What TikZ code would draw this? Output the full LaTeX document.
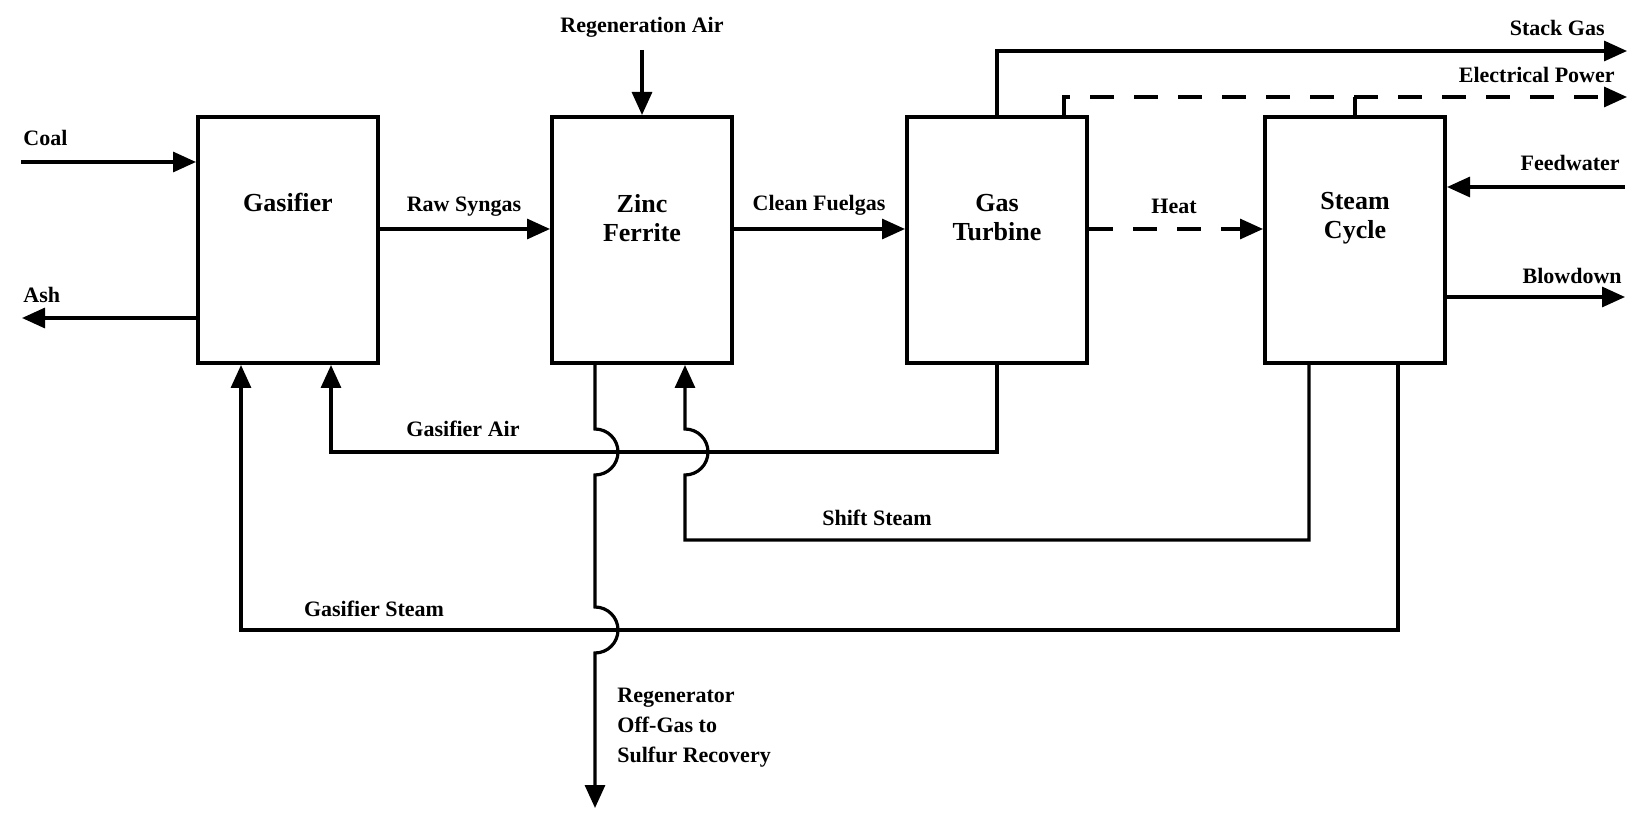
\documentclass[tikz,border=0pt]{standalone}
\usepackage{fontspec}
\setmainfont{Liberation Serif}
\usetikzlibrary{arrows.meta,calc}

\begin{document}
\begin{tikzpicture}[x=0.5pt,y=-0.5pt,
  unit/.style={draw,line width=2pt,minimum width=90pt,minimum height=123pt,inner sep=0pt},
  unitname/.style={font=\fontsize{13}{14.5}\selectfont\bfseries,align=center,inner sep=0pt},
  stream/.style={font=\fontsize{11}{15}\selectfont\bfseries,inner sep=0pt},
  pipe/.style={line width=1.6pt},
  flow/.style={pipe,-{Triangle[length=11.5pt,width=10pt]}},
  energy/.style={flow,dash pattern=on 12pt off 10pt}]
\useasboundingbox (0,0) rectangle (1641,817);

\node[unit] (gasifier) at (288,240) {};
\node[unit] (zinc) at (642,240) {};
\node[unit] (turbine) at (997,240) {};
\node[unit] (steamcycle) at (1355,240) {};

\node[unitname] (gasifiername) at (288,202) {Gasifier};
\node[unitname] (zincname) at (642,218) {Zinc\\Ferrite};
\node[unitname] (turbinename) at (997,218) {Gas\\Turbine};
\node[unitname] (steamcyclename) at (1355,218) {Steam\\Cycle};

\coordinate (coal) at (21,162);
\coordinate (ash) at (22,318);
\coordinate (regenair) at (642,50);
\coordinate (stackgas) at (1627,51);
\coordinate (power) at (1627,97);
\coordinate (feedwater) at (1625,187);
\coordinate (blowdown) at (1625,297);
\coordinate (offgas) at (595,808);
\coordinate (mainline) at (0,229);
\coordinate (airline) at (0,452);
\coordinate (shiftline) at (0,540);
\coordinate (steamline) at (0,630);

\coordinate (gasifiersteamin) at ($(gasifier.south)+(-47,0)$);
\coordinate (gasifierairin) at ($(gasifier.south)+(43,0)$);
\coordinate (zincout) at ($(zinc.south)+(-47,0)$);
\coordinate (zincsteamin) at ($(zinc.south)+(43,0)$);
\coordinate (shiftout) at ($(steamcycle.south)+(-46,0)$);
\coordinate (steamout) at ($(steamcycle.south)+(43,0)$);

\draw[flow] (coal) -- (coal -| gasifier.west);
\draw[flow] (ash -| gasifier.west) -- (ash);
\draw[flow] (gasifier.east |- mainline) -- (zinc.west |- mainline);
\draw[flow] (zinc.east |- mainline) -- (turbine.west |- mainline);
\draw[energy] (turbine.east |- mainline) -- (steamcycle.west |- mainline);
\draw[flow] (regenair) -- (zinc.north);
\draw[flow] (turbine.north) |- (stackgas);
\draw[energy] ($(turbine.north)+(67,0)$) |- (power);
\draw[pipe] (steamcycle.north) -- (steamcycle.north |- power);
\draw[flow] (feedwater) -- (feedwater -| steamcycle.east);
\draw[flow] (blowdown -| steamcycle.east) -- (blowdown);

\draw[flow] (turbine.south) |- (gasifierairin |- airline) -- (gasifierairin);
\draw[flow] (shiftout) |- (zincsteamin |- shiftline) -- ($(zincsteamin |- airline)+(0,23)$)
  arc[start angle=-90,end angle=90,radius=11.5pt] -- (zincsteamin);
\draw[flow] (steamout) |- (gasifiersteamin |- steamline) -- (gasifiersteamin);
\draw[flow] (zincout) -- ($(zincout |- airline)+(0,-23)$)
  arc[start angle=90,end angle=-90,radius=11.5pt] -- ($(zincout |- steamline)+(0,-23)$)
  arc[start angle=90,end angle=-90,radius=11.5pt] -- (offgas);

\node[stream,anchor=west] (coallabel) at (23,138) {Coal};
\node[stream,anchor=west] (ashlabel) at (23,295) {Ash};
\node[stream] (regenairlabel) at (642,27) {Regeneration Air};
\node[stream] (rawsyngas) at (464,207) {Raw Syngas};
\node[stream] (cleanfuelgas) at (819,205) {Clean Fuelgas};
\node[stream] (heat) at (1174,206) {Heat};
\node[stream,anchor=east] (stackgaslabel) at (1605,28) {Stack Gas};
\node[stream,anchor=east] (powerlabel) at (1615,75) {Electrical Power};
\node[stream,anchor=east] (feedwaterlabel) at (1620,163) {Feedwater};
\node[stream,anchor=east] (blowdownlabel) at (1622,276) {Blowdown};
\node[stream] (gasifierair) at (463,429) {Gasifier Air};
\node[stream] (shiftsteam) at (877,518) {Shift Steam};
\node[stream] (gasifiersteam) at (374,609) {Gasifier Steam};
\node[stream,anchor=west,align=left] (offgaslabel) at (617,728) {Regenerator\\Off-Gas to\\Sulfur Recovery};
\end{tikzpicture}
\end{document}
